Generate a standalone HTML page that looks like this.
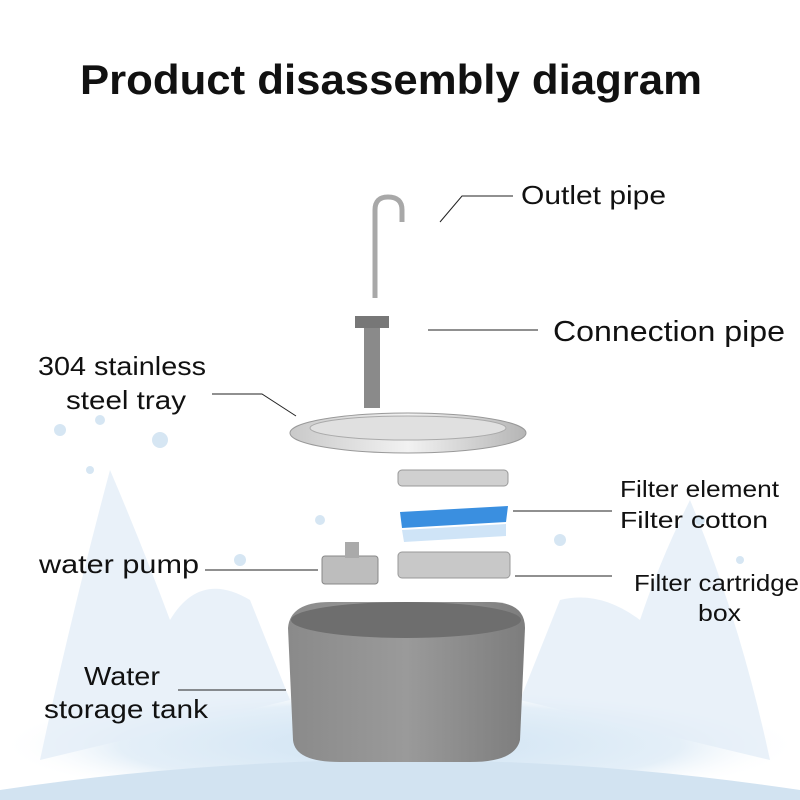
<!DOCTYPE html>
<html><head><meta charset="utf-8"><style>
html,body{margin:0;padding:0;background:#fff;}
svg{display:block}
text{font-family:"Liberation Sans","DejaVu Sans",sans-serif;fill:#111}
</style></head><body>
<svg width="800" height="800" viewBox="0 0 800 800" xmlns="http://www.w3.org/2000/svg">
<defs>
<radialGradient id="sp" cx="50%" cy="50%" r="50%">
<stop offset="0" stop-color="#cfe3f3"/><stop offset="0.7" stop-color="#e4eff8"/><stop offset="1" stop-color="#ffffff" stop-opacity="0"/>
</radialGradient>
<linearGradient id="tank" x1="0" x2="1">
<stop offset="0" stop-color="#8a8a8a"/><stop offset="0.5" stop-color="#9a9a9a"/><stop offset="1" stop-color="#7d7d7d"/>
</linearGradient>
<linearGradient id="tray" x1="0" x2="1">
<stop offset="0" stop-color="#c9c9c9"/><stop offset="0.5" stop-color="#f2f2f2"/><stop offset="1" stop-color="#b5b5b5"/>
</linearGradient>
</defs>
<rect width="800" height="800" fill="#fff"/>
<ellipse cx="400" cy="745" rx="400" ry="60" fill="url(#sp)"/>
<path d="M40 760 Q70 620 110 470 Q140 540 170 620 Q200 570 250 600 L290 700 Z" fill="#e3eef7" opacity="0.8"/>
<path d="M770 760 Q740 620 690 500 Q660 560 640 620 Q600 590 560 600 L520 700 Z" fill="#e3eef7" opacity="0.8"/>
<path d="M0 790 Q400 730 800 790 L800 800 L0 800 Z" fill="#d2e3f1"/>
<g fill="#d6e6f3">
<circle cx="60" cy="430" r="6"/><circle cx="100" cy="420" r="5"/><circle cx="160" cy="440" r="8"/><circle cx="90" cy="470" r="4"/><circle cx="560" cy="540" r="6"/><circle cx="700" cy="520" r="5"/><circle cx="320" cy="520" r="5"/><circle cx="240" cy="560" r="6"/><circle cx="740" cy="560" r="4"/>
</g>
<text x="80" y="94" font-size="42" font-weight="bold" textLength="622" lengthAdjust="spacingAndGlyphs">Product disassembly diagram</text>
<path d="M375 298 L375 210 Q375 197 388 197 Q402 197 402 210 L402 222" fill="none" stroke="#a8a8a8" stroke-width="5"/>
<rect x="355" y="316" width="34" height="12" fill="#777"/>
<rect x="364" y="328" width="16" height="80" fill="#8a8a8a"/>
<ellipse cx="408" cy="433" rx="118" ry="20" fill="url(#tray)" stroke="#999"/>
<ellipse cx="408" cy="428" rx="98" ry="12" fill="#e0e0e0" stroke="#aaa"/>
<rect x="398" y="470" width="110" height="16" rx="4" fill="#d0d0d0" stroke="#999"/>
<path d="M400 512 L508 506 L506 522 L402 528 Z" fill="#3a8fe0"/>
<path d="M402 530 L506 524 L506 536 L404 542 Z" fill="#cfe4f7"/>
<rect x="398" y="552" width="112" height="26" rx="4" fill="#c8c8c8" stroke="#999"/>
<rect x="322" y="556" width="56" height="28" rx="3" fill="#bdbdbd" stroke="#888"/>
<rect x="345" y="542" width="14" height="16" fill="#aaa"/>
<path d="M288 628 Q290 602 330 602 L490 602 Q525 602 525 628 L520 740 Q515 762 470 762 L340 762 Q295 762 293 740 Z" fill="url(#tank)"/>
<ellipse cx="406" cy="620" rx="115" ry="18" fill="#6e6e6e"/>
<g stroke="#222" stroke-width="1" fill="none">
<path d="M440 222 L462 196 L513 196"/>
<path d="M428 330 L538 330"/>
<path d="M212 394 L262 394 L296 416"/>
<path d="M513 511 L612 511"/>
<path d="M515 576 L612 576"/>
<path d="M205 570 L318 570"/>
<path d="M178 690 L286 690"/>
</g>
<g font-size="26">
<text x="521" y="204" textLength="145" lengthAdjust="spacingAndGlyphs">Outlet pipe</text>
<text x="553" y="341" font-size="29" textLength="232" lengthAdjust="spacingAndGlyphs">Connection pipe</text>
<text x="38" y="375" textLength="168" lengthAdjust="spacingAndGlyphs">304 stainless</text>
<text x="66" y="409" textLength="120" lengthAdjust="spacingAndGlyphs">steel tray</text>
<text x="39" y="573" textLength="160" lengthAdjust="spacingAndGlyphs">water pump</text>
<text x="84" y="685" textLength="76" lengthAdjust="spacingAndGlyphs">Water</text>
<text x="44" y="718" textLength="164" lengthAdjust="spacingAndGlyphs">storage tank</text>
</g>
<g font-size="23">
<text x="620" y="497" textLength="159" lengthAdjust="spacingAndGlyphs">Filter element</text>
<text x="620" y="528" textLength="148" lengthAdjust="spacingAndGlyphs">Filter cotton</text>
<text x="634" y="591" textLength="165" lengthAdjust="spacingAndGlyphs">Filter cartridge</text>
<text x="698" y="621" textLength="43" lengthAdjust="spacingAndGlyphs">box</text>
</g>
</svg>
</body></html>
